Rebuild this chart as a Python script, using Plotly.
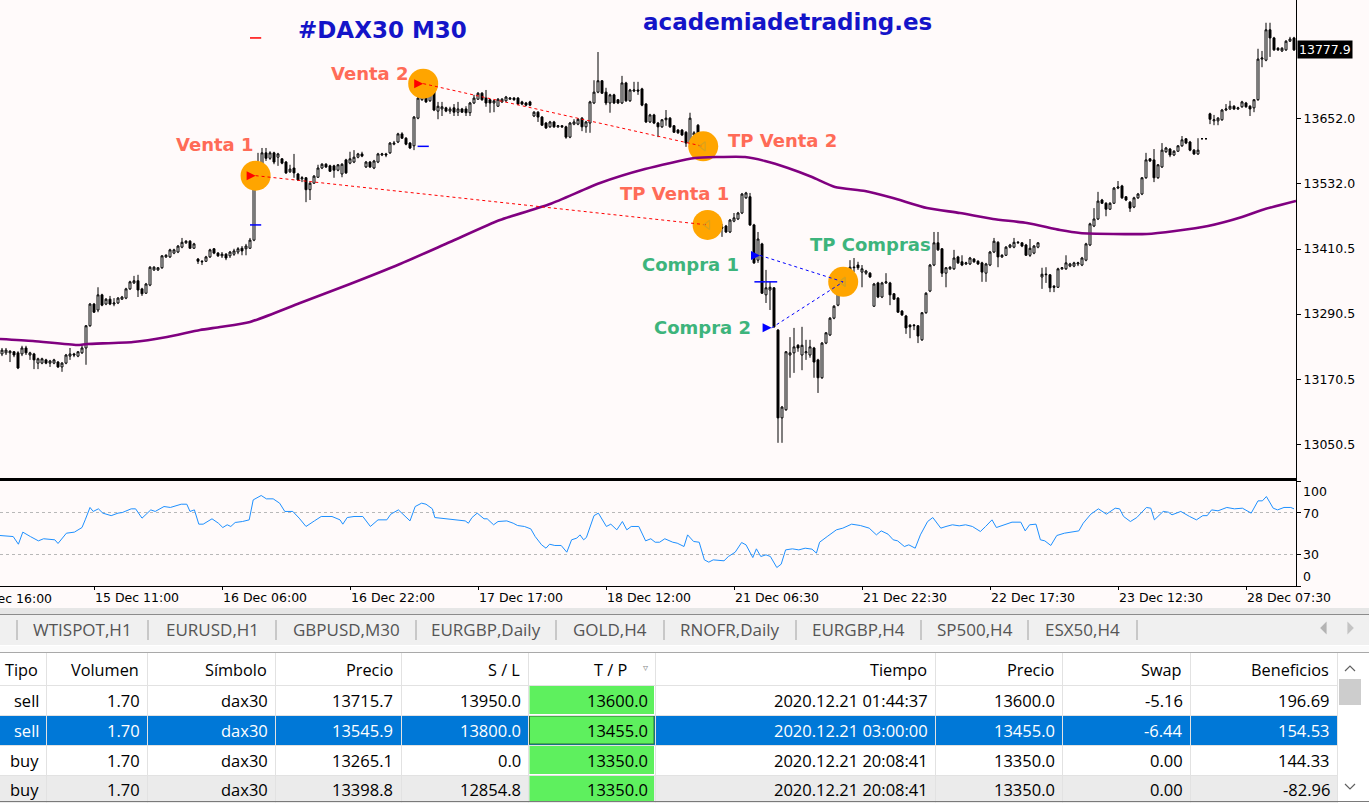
import plotly.graph_objects as go

W, H = 1369, 803
def X(p): return p / W
def Y(p): return 1 - p / H

# ---------------- DAX30 M30 candles (one entry per bar) ----------------
opens = [
13217,13219,13219,13221,13219,13217,13228,13215,13217,13200,
13200,13206,13200,13200,13202,13193,13200,13213,13217,13213,
13219,13228,13269,13309,13298,13326,13309,13318,13309,13311,
13318,13320,13337,13348,13352,13337,13329,13344,13372,13372,
13376,13396,13396,13403,13405,13414,13422,13425,13412,13392,
13388,13388,13396,13411,13403,13398,13401,13398,13401,13405,
13412,13411,13412,13427,13538,13560,13588,13578,13588,13580,
13577,13571,13553,13560,13549,13540,13542,13520,13532,13543,
13560,13567,13564,13564,13556,13549,13575,13569,13571,13580,
13586,13562,13571,13560,13571,13584,13586,13588,13604,13608,
13623,13615,13606,13601,13652,13686,13697,13684,13704,13665,
13669,13671,13665,13671,13663,13669,13669,13662,13680,13687,
13698,13689,13686,13680,13674,13682,13684,13687,13689,13689,
13682,13680,13682,13656,13663,13654,13643,13636,13645,13636,
13638,13636,13617,13641,13641,13652,13636,13643,13680,13700,
13721,13700,13680,13695,13686,13680,13717,13684,13702,13704,
13706,13678,13645,13658,13643,13636,13649,13652,13638,13630,
13630,13626,13606,13621,13639,13614,13455,13473,13448,13464,
13451,13453,13442,13462,13466,13477,13505,13507,13455,13390,
13420,13326,13335,13339,13261,13099,13114,13215,13219,13233,
13215,13219,13215,13228,13206,13173,13237,13252,13283,13307,
13339,13344,13366,13376,13381,13368,13366,13366,13305,13348,
13322,13348,13348,13328,13320,13296,13287,13270,13269,13269,
13243,13293,13333,13381,13422,13411,13366,13374,13374,13396,
13387,13383,13383,13392,13388,13385,13366,13381,13405,13423,
13396,13399,13414,13414,13422,13422,13418,13399,13403,13414,
13359,13363,13363,13342,13340,13374,13374,13379,13379,13383,
13381,13390,13418,13453,13466,13501,13495,13484,13495,13523,
13527,13507,13497,13488,13505,13512,13542,13577,13575,13542,
13562,13590,13595,13584,13591,13601,13614,13608,13593,13586,
13614,13614,13660,13647,13647,13649,13667,13669,13674,13669,
13673,13680,13674,13671,13686,13761,13759,13815,13800,13781,
13776,13778,13794,13800]

closes = [
13224,13224,13222,13215,13191,13228,13219,13219,13206,13208,
13208,13200,13204,13206,13193,13200,13215,13217,13215,13221,
13228,13269,13309,13294,13326,13307,13318,13309,13311,13320,
13322,13337,13350,13352,13335,13328,13346,13377,13377,13376,
13398,13399,13409,13409,13416,13423,13425,13412,13420,13388,
13387,13396,13409,13403,13398,13401,13394,13405,13407,13411,
13407,13416,13427,13534,13560,13588,13578,13588,13571,13586,
13569,13551,13558,13551,13538,13542,13520,13532,13545,13560,
13567,13562,13554,13556,13566,13567,13551,13577,13580,13586,
13582,13571,13562,13573,13586,13586,13584,13606,13606,13623,
13615,13604,13597,13654,13689,13698,13682,13697,13667,13674,
13673,13665,13669,13663,13669,13663,13662,13680,13689,13698,
13686,13680,13680,13684,13687,13687,13691,13689,13686,13678,
13678,13676,13676,13663,13654,13639,13634,13645,13636,13638,
13636,13617,13643,13645,13650,13636,13645,13682,13700,13721,
13698,13680,13695,13680,13680,13717,13684,13704,13704,13702,
13676,13645,13658,13643,13636,13649,13652,13636,13626,13625,
13621,13606,13652,13625,13606,13612,13475,13446,13459,13451,
13449,13442,13464,13468,13477,13512,13514,13455,13385,13429,
13329,13339,13340,13267,13099,13119,13221,13219,13230,13228,
13233,13221,13230,13202,13173,13237,13256,13283,13305,13339,
13344,13363,13377,13377,13376,13374,13370,13359,13346,13322,
13348,13350,13326,13318,13294,13289,13265,13267,13270,13250,
13293,13329,13381,13422,13409,13366,13376,13377,13394,13385,
13381,13385,13394,13387,13383,13368,13383,13405,13425,13396,
13399,13414,13418,13423,13423,13416,13399,13412,13416,13422,
13364,13364,13339,13340,13374,13376,13385,13383,13385,13385,
13394,13420,13457,13466,13499,13495,13484,13495,13523,13525,
13505,13501,13486,13505,13512,13542,13575,13573,13542,13566,
13593,13597,13584,13591,13601,13612,13606,13593,13586,13593,
13614,13614,13650,13649,13652,13667,13669,13674,13669,13671,
13682,13673,13669,13686,13761,13763,13815,13800,13778,13778,
13781,13794,13798,13777.9]

highs = [
13228,13228,13224,13222,13222,13232,13232,13221,13219,13210,
13210,13208,13206,13208,13204,13202,13217,13228,13219,13222,
13233,13270,13311,13311,13340,13328,13320,13324,13320,13322,
13324,13339,13352,13361,13363,13339,13348,13379,13379,13377,
13399,13401,13411,13411,13418,13431,13427,13427,13422,13394,
13390,13398,13411,13412,13405,13405,13403,13407,13411,13414,
13416,13420,13431,13538,13588,13597,13597,13591,13590,13588,
13578,13573,13566,13586,13551,13545,13543,13534,13547,13566,
13569,13569,13566,13566,13567,13569,13577,13590,13593,13588,
13590,13573,13573,13575,13588,13588,13588,13608,13610,13625,
13626,13617,13608,13656,13691,13730,13700,13698,13708,13682,
13682,13673,13673,13678,13682,13671,13674,13682,13695,13700,
13700,13704,13687,13686,13689,13689,13693,13691,13691,13691,
13684,13682,13684,13665,13665,13656,13645,13647,13647,13639,
13639,13638,13645,13650,13652,13654,13647,13684,13722,13774,
13722,13708,13697,13697,13687,13730,13719,13706,13719,13719,
13708,13680,13660,13660,13645,13650,13667,13654,13639,13632,
13632,13628,13662,13628,13641,13617,13481,13475,13460,13466,
13457,13455,13466,13477,13479,13514,13516,13514,13457,13442,
13422,13372,13350,13340,13263,13121,13222,13248,13265,13235,
13267,13243,13243,13230,13208,13239,13257,13285,13307,13340,
13346,13364,13390,13394,13387,13381,13372,13368,13348,13350,
13350,13366,13350,13329,13322,13298,13289,13272,13272,13270,
13294,13331,13383,13442,13442,13412,13377,13379,13409,13398,
13399,13387,13396,13394,13390,13387,13385,13407,13431,13425,
13401,13416,13420,13431,13425,13423,13420,13429,13418,13423,
13376,13377,13364,13344,13376,13377,13399,13385,13387,13387,
13396,13422,13459,13486,13516,13503,13497,13497,13525,13536,
13529,13508,13499,13507,13514,13543,13588,13578,13595,13567,
13606,13599,13597,13593,13602,13619,13615,13610,13595,13615,
13614,13614,13662,13658,13654,13669,13678,13684,13676,13673,
13684,13682,13676,13687,13780,13776,13828,13828,13802,13783,
13783,13796,13802,13802]

lows = [
13213,13215,13202,13211,13189,13213,13215,13206,13189,13189,
13198,13198,13193,13198,13191,13184,13198,13206,13211,13211,
13217,13197,13267,13293,13294,13305,13307,13307,13305,13309,
13317,13318,13335,13346,13322,13324,13328,13342,13370,13370,
13374,13394,13394,13401,13403,13412,13420,13411,13411,13383,
13381,13387,13394,13401,13396,13394,13390,13394,13398,13401,
13399,13399,13411,13425,13523,13556,13573,13575,13567,13564,
13567,13549,13551,13542,13536,13534,13497,13501,13531,13542,
13558,13560,13553,13542,13554,13543,13549,13567,13569,13578,
13580,13560,13560,13558,13569,13582,13580,13586,13602,13606,
13614,13602,13595,13593,13650,13684,13680,13682,13665,13650,
13656,13663,13660,13656,13656,13662,13656,13656,13678,13686,
13684,13673,13662,13663,13673,13680,13682,13686,13684,13676,
13676,13674,13674,13654,13645,13638,13632,13634,13634,13634,
13634,13614,13615,13639,13639,13628,13625,13625,13678,13698,
13697,13676,13662,13678,13678,13678,13682,13682,13700,13695,
13674,13643,13643,13641,13617,13634,13638,13634,13625,13623,
13619,13599,13604,13602,13602,13597,13435,13433,13446,13449,
13433,13440,13440,13460,13464,13475,13503,13453,13383,13385,
13328,13311,13298,13265,13053,13053,13112,13173,13182,13221,
13187,13206,13210,13173,13145,13171,13235,13250,13281,13305,
13337,13342,13364,13368,13372,13340,13363,13357,13304,13320,
13320,13346,13307,13317,13293,13287,13254,13246,13261,13237,
13241,13291,13331,13379,13407,13359,13340,13372,13372,13383,
13379,13381,13381,13385,13381,13350,13350,13379,13403,13377,
13394,13398,13412,13412,13420,13414,13398,13396,13401,13412,
13337,13348,13331,13331,13339,13372,13372,13377,13377,13379,
13379,13388,13416,13451,13464,13494,13471,13483,13494,13521,
13503,13499,13479,13486,13503,13510,13540,13571,13534,13540,
13560,13588,13580,13582,13590,13599,13604,13591,13584,13584,
13614,13614,13641,13639,13639,13647,13665,13667,13667,13667,
13671,13671,13656,13663,13684,13746,13757,13765,13776,13776,
13774,13776,13793,13776]

bars = list(range(len(closes)))

# moving average (read at anchor bars)
ma_bar = [-0.5, 7.75, 18.75, 21.25, 32.75, 41.25, 49.5, 54.5, 62, 74.5, 87, 99.5, 112,
          124.5, 137, 149.5, 160.75, 173.25, 179, 185.75, 190.75, 196.5, 202.5, 208.25,
          215.75, 222.75, 231.25, 239.5, 247.75, 256.25, 264.5, 269.5, 286.25, 293.25,
          301.5, 310, 315, 323.5]
ma_val = [13244.5, 13240.9, 13233.5, 13235.3, 13239.0, 13248.3, 13261.2, 13266.7, 13276.0,
          13311.0, 13346.0, 13382.9, 13423.5, 13464.1, 13493.6, 13532.4, 13558.2, 13578.5,
          13580.3, 13580.3, 13573.0, 13560.0, 13543.4, 13525.0, 13517.6, 13504.7, 13486.2,
          13477.0, 13465.9, 13458.6, 13445.6, 13440.1, 13438.3, 13443.8, 13453.0, 13469.6,
          13482.6, 13499.2]

# RSI
rsi_bar = [-0.5,2.8,4.1,5.2,7.1,9.1,10.4,12.1,13.2,14.0,16.1,18.1,20.0,20.8,22.0,22.8,24.1,25.2,
           27.3,29.0,30.1,32.3,33.4,35.0,37.2,38.3,40.5,42.1,43.2,44.8,46.2,47.0,48.1,49.2,50.3,
           52.5,54.1,55.2,56.3,57.2,58.3,60.1,61.8,62.8,64.8,66.1,67.8,69.4,70.7,72.7,74.3,76.0,
           78.1,79.8,82.5,83.6,84.5,85.2,86.3,88.0,90.2,92.1,94.0,96.2,97.2,99.1,100.2,102.0,
           103.3,104.9,106.0,107.6,108.2,110.9,113.6,115.8,116.6,117.5,118.8,120.5,121.3,122.9,
           124.0,126.2,127.8,128.9,130.6,132.2,133.3,134.9,136.0,136.9,138.2,139.8,141.2,142.4,
           143.7,144.5,145.4,146.1,148.0,149.1,151.1,152.2,153.7,155.1,156.2,157.3,159.2,160.9,
           162.2,163.3,164.4,165.7,167.7,168.8,170.5,
           171.4,172.9,174.3,175.6,176.7,177.8,180.5,181.6,183.3,184.9,186.0,187.7,188.6,189.7,
           191.0,192.1,193.7,194.8,195.9,197.6,199.2,200.8,202.5,203.6,204.4,206.3,208.6,210.2,
           212.4,214.6,216.8,218.6,219.8,221.5,222.8,223.9,225.6,226.7,228.3,229.6,231.4,232.7,
           234.7,236.0,237.6,239.3,240.9,242.6,244.6,245.9,247.5,248.6,250.8,252.5,254.7,255.8,
           256.9,258.5,259.6,260.7,262.2,263.7,265.6,267.3,269.2,270.3,272.2,274.1,276.1,278.3,
           279.4,280.4,282.1,283.7,286.1,287.2,288.1,290.3,291.6,292.5,294.7,296.9,298.6,300.2,
           301.3,302.4,304.0,306.2,308.1,310.1,312.3,314.0,315.1,316.1,317.8,318.9,320.5,322.2,323.0]
rsi_val = [48.1,47.1,39.8,51.3,47.1,43.0,45.0,44.0,44.0,40.5,50.3,51.3,55.7,63.0,74.8,71.0,73.5,69.4,
           67.0,69.4,70.0,73.5,73.5,64.6,72.5,71.0,75.7,74.8,76.0,77.9,77.9,71.0,72.5,58.9,58.9,
           64.0,59.8,55.7,58.3,56.7,60.5,61.4,63.0,82.0,86.2,83.0,83.0,78.9,71.0,71.0,64.6,56.7,
           62.0,66.2,66.2,64.6,63.0,58.9,65.2,66.2,66.2,56.7,63.0,63.0,68.4,72.5,68.4,62.0,
           75.7,78.9,77.9,73.5,65.2,64.0,63.0,62.0,59.8,65.2,69.4,64.0,64.0,58.3,
           61.4,62.0,59.8,57.6,56.7,54.4,47.1,39.2,36.0,39.8,38.6,38.6,32.2,44.0,
           45.6,48.7,44.0,46.2,67.0,69.4,56.7,58.9,53.5,61.4,53.5,56.7,56.7,43.0,
           45.0,41.7,41.7,45.0,41.7,40.8,37.6,
           48.7,42.4,41.7,24.9,22.7,24.9,24.0,28.1,32.2,41.4,39.2,27.1,35.4,28.1,
           29.7,28.1,17.6,20.8,34.4,35.4,34.4,36.0,35.1,31.3,41.7,47.1,53.5,55.1,
           58.9,57.6,55.1,48.7,52.5,49.4,44.0,43.0,37.6,39.2,36.0,48.7,61.4,65.2,
           55.1,56.7,58.3,57.3,58.3,56.7,51.9,56.7,63.0,55.7,58.9,60.8,60.8,52.5,
           58.3,58.9,44.0,43.0,38.6,48.1,50.3,51.3,52.5,59.8,68.4,73.5,68.4,74.1,
           73.5,66.2,61.4,65.2,74.8,74.1,63.0,71.0,70.3,67.8,71.0,66.2,63.0,67.0,
           67.0,72.5,71.6,74.8,73.5,74.1,69.4,81.1,81.1,85.2,74.1,72.5,74.8,74.8,73.5]
rsi_levels = [70, 30]

# axes labels
date_tick_bars = [23, 55, 87, 119, 151, 183, 215, 247, 279, 311]
date_tick_text = ["15 Dec 11:00", "16 Dec 06:00", "16 Dec 22:00", "17 Dec 17:00", "18 Dec 12:00",
                  "21 Dec 06:30", "21 Dec 22:30", "22 Dec 17:30", "23 Dec 12:30", "28 Dec 07:30"]
first_date_text = "14 Dec 16:00"
price_ticks = [13050.5, 13170.5, 13290.5, 13410.5, 13532.0, 13652.0]
last_price = 13777.9

# ---------------- orders table ----------------
tipo = ["sell", "sell", "buy", "buy"]
volumen = [1.70, 1.70, 1.70, 1.70]
simbolo = ["dax30", "dax30", "dax30", "dax30"]
precio = [13715.7, 13545.9, 13265.1, 13398.8]
sl = [13950.0, 13800.0, 0.0, 12854.8]
tp = [13600.0, 13455.0, 13350.0, 13350.0]
tiempo = ["2020.12.21 01:44:37", "2020.12.21 03:00:00", "2020.12.21 20:08:41", "2020.12.21 20:08:41"]
precio_cierre = [13600.0, 13455.0, 13350.0, 13350.0]
swap = [-5.16, -6.44, 0.00, 0.00]
beneficios = [196.69, 154.53, 144.33, -82.96]
open_bar = [105.3, 63.4, 192.4, 189.5]
close_bar = [175.3, 176.4, 210.3, 210.3]

headers = ["Tipo", "Volumen", "Símbolo", "Precio", "S / L", "T / P", "Tiempo", "Precio", "Swap", "Beneficios"]
tabs = ["WTISPOT,H1", "EURUSD,H1", "GBPUSD,M30", "EURGBP,Daily", "GOLD,H4",
        "RNOFR,Daily", "EURGBP,H4", "SP500,H4", "ESX50,H4"]

# ---------------- figure ----------------
BG = "#fffafa"
AX = "DejaVu Sans"
TF = "Open Sans"
XD = [0, 1296 / W]
y_top, y_bot = 13870.0, 13870.0 - 1.845 * 478

fig = go.Figure()

# orange highlight circles (below candles)
circ_x = [open_bar[1], open_bar[0], close_bar[0], close_bar[1], close_bar[2]]
circ_y = [precio[1], precio[0], tp[0], tp[1], tp[2]]
fig.add_trace(go.Scatter(x=circ_x, y=circ_y, mode="markers",
                         marker=dict(size=30, color="#ffa500", line=dict(width=0)),
                         hoverinfo="skip"))

fig.add_trace(go.Candlestick(
    x=bars, open=opens, high=highs, low=lows, close=closes,
    increasing=dict(line=dict(color="black", width=1), fillcolor="white"),
    decreasing=dict(line=dict(color="black", width=1), fillcolor="black"),
    whiskerwidth=0, hoverinfo="skip"))

fig.add_trace(go.Scatter(x=ma_bar, y=ma_val, mode="lines",
                         line=dict(color="#800080", width=2.6, shape="spline", smoothing=0.6),
                         hoverinfo="skip"))

# trade lines
for i in range(len(tipo)):
    col = "#ff0000" if tipo[i] == "sell" else "#0000ff"
    fig.add_trace(go.Scatter(x=[open_bar[i], close_bar[i]], y=[precio[i], tp[i]], mode="lines",
                             line=dict(color=col, width=1, dash="3px,3px"), hoverinfo="skip"))
# TP / SL level marks at the opening bar
fig.add_trace(go.Scatter(x=open_bar, y=tp, mode="markers",
                         marker=dict(symbol="line-ew", size=8, line=dict(color="#0000ff", width=1.5)),
                         hoverinfo="skip"))
sl_x = [open_bar[i] for i in range(len(sl)) if sl[i] > 0]
sl_y = [s for s in sl if s > 0]
fig.add_trace(go.Scatter(x=sl_x, y=sl_y, mode="markers",
                         marker=dict(symbol="line-ew", size=8, line=dict(color="#ff0000", width=1.5)),
                         hoverinfo="skip"))
# entry arrows & exit marks
fig.add_trace(go.Scatter(x=open_bar, y=precio, mode="markers",
                         marker=dict(symbol="arrow-right", size=9,
                                     color=["#ff0000" if t == "sell" else "#0000ff" for t in tipo],
                                     line=dict(width=0)),
                         hoverinfo="skip"))
fig.add_trace(go.Scatter(x=close_bar, y=tp, mode="markers",
                         marker=dict(symbol="triangle-left-open", size=8, color="#d9a21b",
                                     line=dict(width=1.2)),
                         hoverinfo="skip"))

# RSI
fig.add_trace(go.Scatter(x=rsi_bar, y=rsi_val, mode="lines", xaxis="x2", yaxis="y2",
                         line=dict(color="#1e90ff", width=1), hoverinfo="skip"))

shapes = []
annotations = []

for lv in rsi_levels:
    shapes.append(dict(type="line", xref="x2 domain", yref="y2", x0=0, x1=1, y0=lv, y1=lv,
                       line=dict(color="#b8b8b8", width=1, dash="3px,3px"), layer="below"))

def rect(x0, y0, x1, y1, fill, line=None, lw=0):
    shapes.append(dict(type="rect", xref="paper", yref="paper", x0=X(x0), x1=X(x1), y0=Y(y1), y1=Y(y0),
                       fillcolor=fill, line=dict(color=line or fill, width=lw), layer="above"))

def hline(x0, x1, y, color, w=1):
    shapes.append(dict(type="line", xref="paper", yref="paper", x0=X(x0), x1=X(x1), y0=Y(y), y1=Y(y),
                       line=dict(color=color, width=w), layer="above"))

def vline(x, y0, y1, color, w=1):
    shapes.append(dict(type="line", xref="paper", yref="paper", x0=X(x), x1=X(x), y0=Y(y0), y1=Y(y1),
                       line=dict(color=color, width=w), layer="above"))

def path(pts, color, fill=None, close=False):
    d = "M " + " L ".join(f"{X(a):.6f},{Y(b):.6f}" for a, b in pts) + (" Z" if close else "")
    shapes.append(dict(type="path", xref="paper", yref="paper", path=d,
                       line=dict(color=color, width=1.2), fillcolor=fill or "rgba(0,0,0,0)",
                       layer="above"))

def text(x, y, s, size, color, family=TF, anchor="center", bold=False, bg=None):
    annotations.append(dict(xref="paper", yref="paper", x=X(x), y=Y(y), text=s, showarrow=False,
                            xanchor=anchor, yanchor="middle",
                            font=dict(family=family, size=size, color=color,
                                      weight="bold" if bold else "normal"),
                            bgcolor=bg))

# chart titles & trade labels
text(382, 30, "#DAX30 M30", 23, "#1414c8", family=AX, bold=True)
text(787, 22, "academiadetrading.es", 23, "#1414c8", family=AX, bold=True)
RED, GRN = "#ff6b57", "#3db47c"
text(214.5, 144, "Venta 1", 18, RED, family=AX, bold=True)
text(370, 73, "Venta 2", 18, RED, family=AX, bold=True)
text(782, 140, "TP Venta 2", 18, RED, family=AX, bold=True)
text(674.5, 194, "TP Venta 1", 18, RED, family=AX, bold=True)
text(690.5, 264, "Compra 1", 18, GRN, family=AX, bold=True)
text(702, 327, "Compra 2", 18, GRN, family=AX, bold=True)
text(870, 244, "TP Compras", 18, GRN, family=AX, bold=True)

# current price box
annotations.append(dict(xref="paper", yref="y", x=X(1297), y=last_price, text=f"{last_price:.1f}",
                        showarrow=False, xanchor="left", yanchor="middle", bgcolor="black",
                        borderpad=1, font=dict(family=AX, size=12.5, color="white")))
# RSI scale labels
for lab, yy in [("100", 491), ("70", 513), ("30", 554), ("0", 576)]:
    text(1301, yy, lab, 12.5, "black", family=AX, anchor="left")
# first (clipped) date label
text(-34, 598, first_date_text, 12.5, "black", family=AX, anchor="left")

# ---------- bottom terminal panel ----------
rect(0, 608, W, 614, "#e6e6e6")
hline(0, W, 614.5, "#8c8c8c")
rect(0, 615, W, 645, "#f0f0f0")
rect(0, 645, W, 652, "#fbfbfb")
hline(0, W, 645.5, "#ffffff")
hline(0, W, 652.5, "#a9a9a9")
rect(0, 653, W, 803, "#ffffff")

tab_sep = [17, 148, 276, 416, 556, 664, 796, 921, 1028, 1137]
for xs in tab_sep:
    vline(xs, 620, 640, "#a0a0a0")
for i, t in enumerate(tabs):
    text((tab_sep[i] + tab_sep[i + 1]) / 2, 629, t, 17, "#555555")
path([(1326, 623), (1321, 628), (1326, 633)], "#b4b4b4", fill="#b4b4b4", close=True)
path([(1348, 623), (1353, 628), (1348, 633)], "#c4c4c4", fill="#c4c4c4", close=True)

col_right = [46, 147, 275, 401, 528, 655, 935, 1062, 1190, 1337]
row_top = [685, 715, 745, 775]
row_bot = [715, 745, 775, 803]
rect(0, 715, 1337, 745, "#0078d7")
rect(0, 775, 1337, 803, "#ebebeb")
for r in range(4):
    rect(529.5, row_top[r] + 1, 654, row_bot[r] - 1, "#5ef05e",
         line="#2f6e2f" if r == 1 else None, lw=1 if r == 1 else 0)
for yy in [685, 715, 745, 775]:
    hline(0, 1337, yy + 0.5, "#e2e2e2")
for xs in col_right:
    vline(xs + 0.5, 653, 803, "#e2e2e2")
hline(0, W, 801.5, "#7a7a7a")
# scrollbar
rect(1339, 679, 1361, 705, "#cdcdcd")
path([(1345, 671), (1350, 666), (1355, 671)], "#606060")
path([(1345, 784), (1350, 789), (1355, 784)], "#606060")

for j, hname in enumerate(headers):
    xr = col_right[j] - 6 if hname != "T / P" else 629
    text(xr, 670, hname, 16.3, "#000000", anchor="right")
text(645, 667, "▿", 10, "#8a8a8a", family=AX)

rows = []
for i in range(4):
    rows.append([tipo[i], f"{volumen[i]:.2f}", simbolo[i], f"{precio[i]:.1f}", f"{sl[i]:.1f}",
                 f"{tp[i]:.1f}", tiempo[i], f"{precio_cierre[i]:.1f}", f"{swap[i]:.2f}",
                 f"{beneficios[i]:.2f}"])
for r, cells in enumerate(rows):
    yc = (row_top[r] + row_bot[r]) / 2
    for j, c in enumerate(cells):
        colr = "#ffffff" if (r == 1 and j != 5) else "#000000"
        text(col_right[j] - 5.5, yc, c, 16.5, colr, anchor="right")

fig.update_layout(
    template="none", width=W, height=H, margin=dict(l=0, r=0, t=0, b=0),
    paper_bgcolor=BG, plot_bgcolor=BG, showlegend=False, hovermode=False,
    xaxis=dict(domain=XD, range=[-0.5, 323.5], showticklabels=False, showgrid=False, zeroline=False,
               rangeslider=dict(visible=False), showline=True, linecolor="black", linewidth=1.5,
               ticks="", anchor="y"),
    yaxis=dict(domain=[Y(478), 1], range=[y_bot, y_top], side="right", anchor="x", showgrid=False,
               zeroline=False, tickvals=price_ticks, ticktext=[f"{v:.1f}" for v in price_ticks],
               ticks="outside", ticklen=4, tickcolor="black", showline=True, linecolor="black",
               tickfont=dict(family=AX, size=12.5, color="black")),
    xaxis2=dict(domain=XD, range=[-0.5, 323.5], anchor="y2", matches="x", showgrid=False,
                zeroline=False, tickvals=date_tick_bars, ticktext=date_tick_text, ticks="outside",
                ticklen=3, tickcolor="black", ticklabelposition="outside right",
                ticklabeloverflow="allow", showline=True, mirror=True, linecolor="black",
                tickfont=dict(family=AX, size=12.5, color="black")),
    yaxis2=dict(domain=[Y(586), Y(481)], range=[0, 100], anchor="x2", side="right", showgrid=False,
                zeroline=False, tickvals=[100, 70, 30, 0], ticktext=["", "", "", ""], ticks="outside",
                ticklen=4, tickcolor="black", showline=True, linecolor="black"),
    shapes=shapes, annotations=annotations,
)

fig.write_html("out.html", config={"displayModeBar": False},
               post_script="document.body.style.margin='0';document.body.style.padding='0';"
                           "document.body.style.overflow='hidden';")
